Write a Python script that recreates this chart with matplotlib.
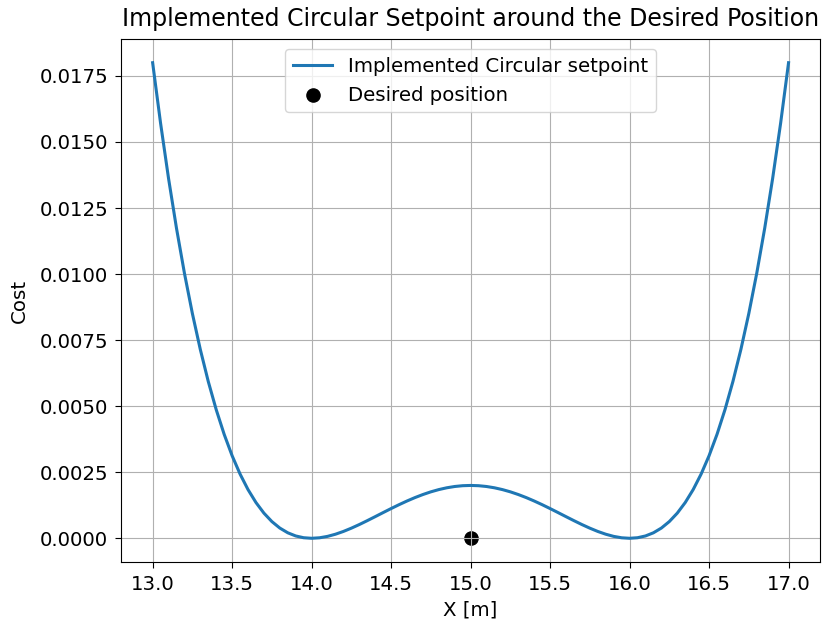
import numpy as np
import matplotlib
import matplotlib.pyplot as plt

matplotlib.use('Agg')
plt.rcParams['font.size'] = 14.2
plt.rcParams['xtick.major.size'] = 4.4
plt.rcParams['ytick.major.size'] = 4.4
plt.rcParams['xtick.major.pad'] = 4.6
plt.rcParams['ytick.major.pad'] = 4.6

# Значения стоимости (шаг 0.05 м)
x_pos = [13.00, 13.05, 13.10, 13.15, 13.20, 13.25, 13.30, 13.35, 13.40, 13.45,
         13.50, 13.55, 13.60, 13.65, 13.70, 13.75, 13.80, 13.85, 13.90, 13.95,
         14.00, 14.05, 14.10, 14.15, 14.20, 14.25, 14.30, 14.35, 14.40, 14.45,
         14.50, 14.55, 14.60, 14.65, 14.70, 14.75, 14.80, 14.85, 14.90, 14.95,
         15.00, 15.05, 15.10, 15.15, 15.20, 15.25, 15.30, 15.35, 15.40, 15.45,
         15.50, 15.55, 15.60, 15.65, 15.70, 15.75, 15.80, 15.85, 15.90, 15.95,
         16.00, 16.05, 16.10, 16.15, 16.20, 16.25, 16.30, 16.35, 16.40, 16.45,
         16.50, 16.55, 16.60, 16.65, 16.70, 16.75, 16.80, 16.85, 16.90, 16.95,
         17.00]
cost = [0.018000, 0.015708, 0.013624, 0.011737, 0.010035, 0.008508, 0.007144,
        0.005934, 0.004867, 0.003934, 0.003125, 0.002431, 0.001843, 0.001353,
        0.000952, 0.000633, 0.000387, 0.000208, 0.000088, 0.000021, 0.000000,
        0.000019, 0.000072, 0.000154, 0.000259, 0.000383, 0.000520, 0.000667,
        0.000819, 0.000973, 0.001125, 0.001272, 0.001411, 0.001540, 0.001656,
        0.001758, 0.001843, 0.001911, 0.001960, 0.001990, 0.002000, 0.001990,
        0.001960, 0.001911, 0.001843, 0.001758, 0.001656, 0.001540, 0.001411,
        0.001272, 0.001125, 0.000973, 0.000819, 0.000667, 0.000520, 0.000383,
        0.000259, 0.000154, 0.000072, 0.000019, 0.000000, 0.000021, 0.000088,
        0.000208, 0.000387, 0.000633, 0.000952, 0.001353, 0.001843, 0.002431,
        0.003125, 0.003934, 0.004867, 0.005934, 0.007144, 0.008508, 0.010035,
        0.011737, 0.013624, 0.015708, 0.018000]

desired_x = [15.0]
desired_cost = [0.0]

fig = plt.figure(figsize=(8.22, 6.28), dpi=100)
ax = fig.add_axes([0.147, 0.105, 0.851, 0.833])

ax.plot(x_pos, cost, color='#1f77b4', linewidth=2.2, label='Implemented Circular setpoint')
ax.scatter(desired_x, desired_cost, color='black', s=90, label='Desired position')

ax.set_xlabel('X [m]', fontsize=14.2, labelpad=5)
ax.set_ylabel('Cost', fontsize=14.2, labelpad=8)
ax.set_title('Implemented Circular Setpoint around the Desired Position', fontsize=17.0, pad=9)
ax.set_xticks(np.arange(13.0, 17.01, 0.5))
ax.set_yticks(np.arange(0, 0.0176, 0.0025))
ax.yaxis.set_major_formatter(matplotlib.ticker.FormatStrFormatter('%.4f'))
ax.legend(loc='upper center', fontsize=14.2)
ax.grid(True)

fig.savefig('out.png', dpi=100)
